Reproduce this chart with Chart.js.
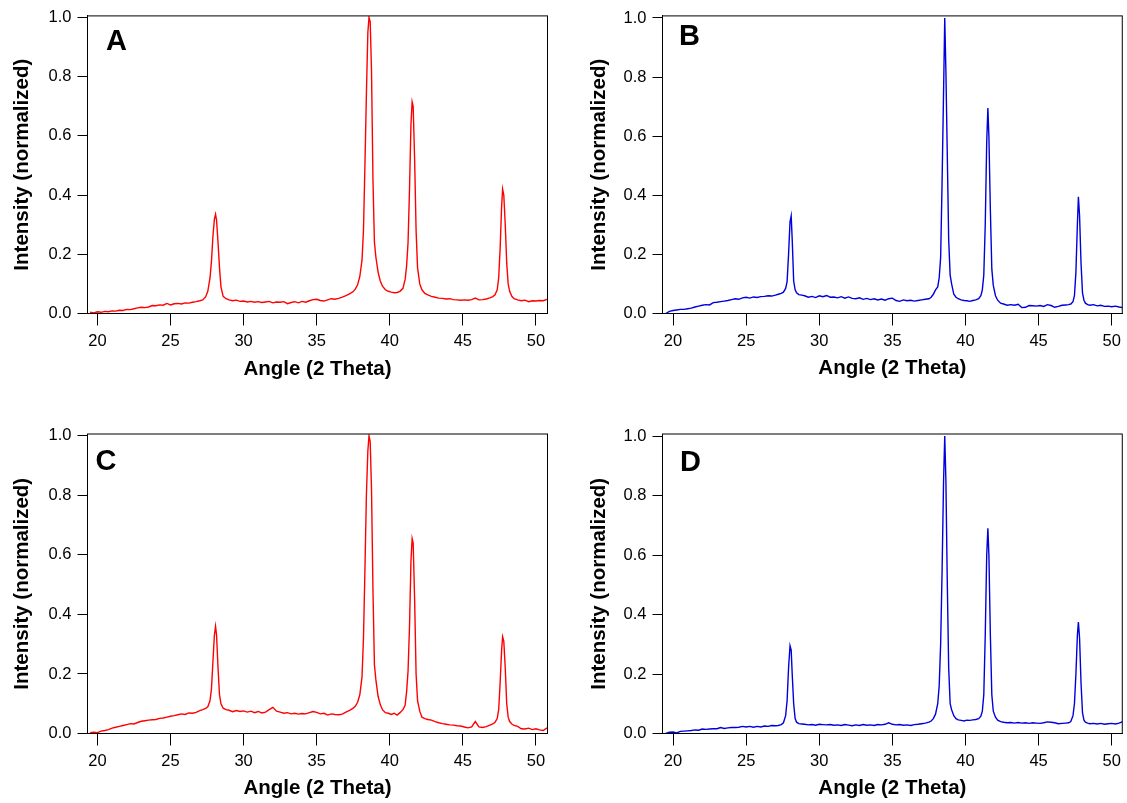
<!DOCTYPE html>
<html>
<head>
<meta charset="utf-8">
<script src="https://cdn.jsdelivr.net/npm/chart.js@4.4.1/dist/chart.umd.min.js"></script>
<style>
  html, body { margin: 0; padding: 0; background: #fff; }
  body { width: 1127px; height: 803px; position: relative; overflow: hidden; }
  canvas { position: absolute; }
  .tag { position: absolute; font: bold 29px 'Liberation Sans', Arial, sans-serif; line-height: 29px; color: #000; }
</style>
</head>
<body>
<canvas id="chartA"></canvas>
<canvas id="chartB"></canvas>
<canvas id="chartC"></canvas>
<canvas id="chartD"></canvas>
<div class="tag" style="left:106px; top:25.5px">A</div>
<div class="tag" style="left:679px; top:20.5px">B</div>
<div class="tag" style="left:95.5px; top:445.5px">C</div>
<div class="tag" style="left:680px; top:446.5px">D</div>
<script>
// 2 theta grid shared by all four patterns (denser around the reflections)
const angles = [
    19.5, 19.75, 20, 20.25, 20.5, 20.75, 21, 21.25, 21.5, 21.75, 22, 22.25, 22.5, 22.75, 23, 23.25, 23.5, 23.75, 24, 24.25, 24.5, 24.75, 25, 25.25, 25.5, 25.75, 26, 26.25, 26.5, 26.75, 27,
    27.2, 27.4, 27.55, 27.7, 27.8, 27.9, 28, 28.08, 28.15, 28.25, 28.35, 28.45, 28.6, 28.8,
    29, 29.25, 29.5, 29.75, 30, 30.25, 30.5, 30.75, 31, 31.25, 31.5, 31.75, 32, 32.25, 32.5, 32.75, 33, 33.25, 33.5, 33.75, 34, 34.25, 34.5, 34.75, 35, 35.25, 35.5, 35.75, 36, 36.25, 36.5, 36.75, 37, 37.25,
    37.5, 37.65, 37.8, 37.95, 38.1, 38.2, 38.3, 38.4, 38.5, 38.58, 38.66, 38.75, 38.85, 38.95, 39.05, 39.2, 39.35, 39.5, 39.7, 39.9,
    40.1, 40.3, 40.5, 40.7,
    40.9, 41.05, 41.15, 41.25, 41.35, 41.45, 41.53, 41.6, 41.7, 41.8, 41.9, 42.05, 42.2, 42.4,
    42.6, 42.85, 43.1, 43.35, 43.6, 43.85, 44.1, 44.35, 44.6, 44.85, 45.1, 45.35, 45.6, 45.85, 46.1, 46.35, 46.6, 46.85,
    47.05, 47.2, 47.35, 47.45, 47.55, 47.65, 47.72, 47.8, 47.9, 48, 48.1, 48.2, 48.35, 48.5,
    48.75, 49, 49.25, 49.5, 49.75, 50, 50.25, 50.5, 50.75
];

const intensityA = [
    0.004, 0.002, 0.006, 0.004, 0.007, 0.006, 0.009, 0.008, 0.011, 0.010, 0.014, 0.013, 0.016, 0.019, 0.021, 0.020, 0.022, 0.027, 0.026, 0.029, 0.028, 0.034, 0.029, 0.033, 0.034, 0.032, 0.036, 0.035, 0.038, 0.040, 0.043,
    0.046, 0.056, 0.075, 0.12, 0.175, 0.26, 0.318, 0.335, 0.315, 0.24, 0.155, 0.09, 0.058, 0.05,
    0.046, 0.043, 0.045, 0.041, 0.042, 0.039, 0.041, 0.038, 0.040, 0.037, 0.039, 0.041, 0.036, 0.039, 0.038, 0.040, 0.033, 0.037, 0.040, 0.036, 0.041, 0.038, 0.043, 0.047, 0.048, 0.044, 0.042, 0.046, 0.050, 0.048, 0.051, 0.055, 0.060, 0.066,
    0.074, 0.083, 0.097, 0.125, 0.18, 0.28, 0.50, 0.74, 0.95, 1.0, 0.985, 0.82, 0.45, 0.24, 0.19, 0.14, 0.11, 0.092, 0.08, 0.075,
    0.072, 0.070, 0.071, 0.075,
    0.085, 0.115, 0.16, 0.24, 0.42, 0.64, 0.715, 0.70, 0.52, 0.28, 0.155, 0.10, 0.08, 0.068,
    0.063, 0.058, 0.055, 0.052, 0.051, 0.049, 0.050, 0.047, 0.046, 0.045, 0.046, 0.045, 0.047, 0.052, 0.046, 0.047, 0.049, 0.053,
    0.057, 0.063, 0.08, 0.12, 0.22, 0.36, 0.42, 0.40, 0.30, 0.17, 0.10, 0.075, 0.058, 0.05,
    0.046, 0.043, 0.045, 0.040, 0.043, 0.042, 0.044, 0.043, 0.048
];

const intensityB = [
    0.0, 0.007, 0.010, 0.012, 0.014, 0.014, 0.016, 0.018, 0.022, 0.025, 0.028, 0.030, 0.029, 0.037, 0.038, 0.040, 0.042, 0.044, 0.047, 0.050, 0.048, 0.053, 0.055, 0.052, 0.056, 0.054, 0.057, 0.058, 0.060, 0.059, 0.062,
    0.065, 0.068, 0.072, 0.085, 0.108, 0.2, 0.31, 0.33, 0.25, 0.11, 0.08, 0.07, 0.064, 0.062,
    0.060, 0.055, 0.058, 0.054, 0.060, 0.057, 0.061, 0.055, 0.056, 0.053, 0.057, 0.052, 0.056, 0.051, 0.050, 0.053, 0.048, 0.051, 0.047, 0.050, 0.046, 0.049, 0.045, 0.050, 0.052, 0.044, 0.041, 0.046, 0.043, 0.045, 0.042, 0.044, 0.046, 0.048,
    0.05, 0.055, 0.065, 0.08, 0.09, 0.12, 0.19, 0.45, 0.75, 1.0, 0.82, 0.55, 0.25, 0.13, 0.10, 0.065, 0.055, 0.05, 0.046, 0.044,
    0.043, 0.041, 0.044, 0.046,
    0.05, 0.06, 0.08, 0.13, 0.3, 0.58, 0.695, 0.6, 0.35, 0.15, 0.095, 0.06, 0.045, 0.035,
    0.032, 0.028, 0.030, 0.028, 0.031, 0.020, 0.021, 0.027, 0.026, 0.025, 0.027, 0.024, 0.030, 0.027, 0.021, 0.024, 0.028, 0.029,
    0.03, 0.032, 0.04, 0.06, 0.14, 0.30, 0.395, 0.33, 0.17, 0.07, 0.045, 0.035, 0.03, 0.028,
    0.030, 0.026, 0.028, 0.024, 0.025, 0.023, 0.025, 0.022, 0.020
];

const intensityC = [
    0.003, 0.004, 0.003, 0.008, 0.010, 0.013, 0.018, 0.021, 0.024, 0.027, 0.030, 0.033, 0.032, 0.037, 0.041, 0.043, 0.045, 0.046, 0.047, 0.051, 0.052, 0.055, 0.058, 0.060, 0.063, 0.066, 0.064, 0.069, 0.068, 0.071, 0.077,
    0.08, 0.084, 0.09, 0.11, 0.15, 0.24, 0.33, 0.36, 0.33, 0.22, 0.13, 0.1, 0.085, 0.08,
    0.078, 0.073, 0.077, 0.074, 0.076, 0.072, 0.075, 0.070, 0.074, 0.069, 0.072, 0.080, 0.088, 0.075, 0.072, 0.068, 0.070, 0.066, 0.068, 0.065, 0.067, 0.066, 0.070, 0.074, 0.071, 0.066, 0.068, 0.062, 0.066, 0.064, 0.063, 0.065, 0.072, 0.078,
    0.085, 0.092, 0.105, 0.13, 0.19, 0.32, 0.55, 0.80, 0.95, 1.0, 0.98, 0.82, 0.48, 0.23, 0.18, 0.125, 0.097, 0.08, 0.07, 0.068,
    0.064, 0.068, 0.062, 0.070,
    0.08, 0.095, 0.14, 0.21, 0.36, 0.58, 0.655, 0.64, 0.45, 0.2, 0.11, 0.075, 0.055, 0.05,
    0.047, 0.045, 0.040, 0.036, 0.033, 0.031, 0.029, 0.028, 0.026, 0.025, 0.022, 0.019, 0.022, 0.040, 0.022, 0.020, 0.023, 0.028,
    0.032, 0.038, 0.05, 0.08, 0.17, 0.28, 0.325, 0.31, 0.22, 0.1, 0.055, 0.04, 0.032, 0.027,
    0.024, 0.016, 0.015, 0.018, 0.013, 0.016, 0.012, 0.010, 0.019
];

const intensityD = [
    0.0, 0.004, 0.005, 0.002, 0.007, 0.008, 0.009, 0.010, 0.012, 0.011, 0.015, 0.014, 0.015, 0.016, 0.016, 0.020, 0.017, 0.019, 0.020, 0.020, 0.021, 0.024, 0.022, 0.024, 0.021, 0.024, 0.022, 0.025, 0.024, 0.027, 0.026,
    0.027, 0.03, 0.036, 0.06, 0.11, 0.22, 0.295, 0.28, 0.20, 0.10, 0.05, 0.038, 0.033, 0.032,
    0.031, 0.029, 0.030, 0.028, 0.031, 0.030, 0.029, 0.030, 0.028, 0.029, 0.027, 0.030, 0.028, 0.026, 0.029, 0.027, 0.030, 0.028, 0.029, 0.027, 0.030, 0.029, 0.031, 0.036, 0.031, 0.029, 0.030, 0.028, 0.029, 0.027, 0.030, 0.031, 0.033, 0.035,
    0.038, 0.042, 0.05, 0.065, 0.1, 0.16, 0.3, 0.55, 0.85, 1.0, 0.85, 0.52, 0.22, 0.1, 0.08, 0.06, 0.05, 0.046, 0.044, 0.042,
    0.045, 0.044, 0.046, 0.047,
    0.05, 0.058, 0.075, 0.13, 0.33, 0.6, 0.69, 0.6, 0.33, 0.13, 0.075, 0.055, 0.045, 0.04,
    0.038, 0.036, 0.037, 0.035, 0.037, 0.035, 0.036, 0.034, 0.036, 0.035, 0.034, 0.036, 0.039, 0.038, 0.036, 0.033, 0.034, 0.035,
    0.036, 0.04, 0.06, 0.1, 0.2, 0.33, 0.375, 0.32, 0.17, 0.07, 0.045, 0.038, 0.035, 0.033,
    0.034, 0.032, 0.034, 0.031, 0.033, 0.034, 0.032, 0.035, 0.040
];

const xTicks = [20, 25, 30, 35, 40, 45, 50];
const yTicks = [0, 0.2, 0.4, 0.6, 0.8, 1.0];

const FONT = "'Liberation Sans', Arial, sans-serif";
const TICK_SIZE = 16.5;
const TITLE_SIZE = 20.5;
const RED = '#ff0000';
const BLUE = '#0000dd';

// canvas: [left, top, width, height]; plot: [left, top, right, bottom] in page px
const panels = [
    {id: 'A', values: intensityA, color: RED, canvas: [0, 0, 563, 400], plot: [87.5, 15.5, 547.5, 313.5], xRange: [19.32, 50.79], yMax: 1.005, yTitleX: 22, xTitleY: 369},
    {id: 'B', values: intensityB, color: BLUE, canvas: [575, 0, 552, 400], plot: [662.5, 10.5, 1123.5, 313.5], xRange: [19.28, 50.72], yMax: 1.007, yTitleX: 599, xTitleY: 368.5},
    {id: 'C', values: intensityC, color: RED, canvas: [0, 415, 563, 388], plot: [87.5, 434, 547.5, 733.5], xRange: [19.32, 50.79], yMax: 1.006, yTitleX: 22, xTitleY: 788},
    {id: 'D', values: intensityD, color: BLUE, canvas: [575, 415, 552, 388], plot: [662.5, 434, 1123.5, 733.5], xRange: [19.28, 50.72], yMax: 1.007, yTitleX: 599, xTitleY: 788}
];

const frame = {
    id: 'frame',
    afterDatasetsDraw(chart) {
        const {ctx, chartArea: a} = chart;
        ctx.save();
        ctx.strokeStyle = '#000';
        ctx.lineWidth = 1;
        ctx.strokeRect(a.left, a.top, a.right - a.left, a.bottom - a.top);
        ctx.restore();
    }
};

function makeChart(p) {
    const [cl, ct, cw, ch] = p.canvas;
    const [pl, pt, pr, pb] = p.plot;
    const el = document.getElementById('chart' + p.id);
    el.width = cw;
    el.height = ch;
    el.style.left = cl + 'px';
    el.style.top = ct + 'px';
    el.style.width = cw + 'px';
    el.style.height = ch + 'px';

    const titleLine = TITLE_SIZE * 1.2;
    const xTitleBottom = p.xTitleY + titleLine / 2;
    const tickFont = {family: FONT, size: TICK_SIZE};
    const titleFont = {family: FONT, size: TITLE_SIZE, weight: 'bold'};

    return new Chart(el, {
        type: 'line',
        data: {
            datasets: [{
                data: angles.map((a, i) => ({x: a, y: p.values[i]})),
                borderColor: p.color,
                borderWidth: 1.4,
                pointRadius: 0,
                tension: 0,
                fill: false
            }]
        },
        options: {
            responsive: false,
            animation: false,
            devicePixelRatio: 1,
            layout: {padding: {left: 0, top: pt - ct, right: cl + cw - pr, bottom: ct + ch - xTitleBottom}},
            plugins: {legend: {display: false}, tooltip: {enabled: false}},
            scales: {
                x: {
                    type: 'linear',
                    min: p.xRange[0],
                    max: p.xRange[1],
                    afterBuildTicks: s => { s.ticks = xTicks.map(v => ({value: v})); },
                    afterFit: s => { s.height = xTitleBottom - pb; },
                    grid: {drawOnChartArea: false, color: '#000', tickLength: 12},
                    border: {color: '#000', width: 1},
                    ticks: {font: tickFont, color: '#000', padding: 6, maxRotation: 0, autoSkip: false, callback: v => String(v)},
                    title: {display: true, text: 'Angle (2 Theta)', font: titleFont, color: '#000', padding: 0}
                },
                y: {
                    type: 'linear',
                    min: 0,
                    max: p.yMax,
                    afterBuildTicks: s => { s.ticks = yTicks.map(v => ({value: v})); },
                    afterFit: s => { s.width = pl - cl; },
                    grid: {drawOnChartArea: false, color: '#000', tickLength: 10},
                    border: {color: '#000', width: 1},
                    ticks: {font: tickFont, color: '#000', padding: 6, autoSkip: false, callback: v => Number(v).toFixed(1)},
                    title: {display: true, text: 'Intensity (normalized)', font: titleFont, color: '#000', padding: {top: p.yTitleX - cl - titleLine / 2, bottom: 0}}
                }
            }
        },
        plugins: [frame]
    });
}

panels.forEach(makeChart);
</script>
</body>
</html>
